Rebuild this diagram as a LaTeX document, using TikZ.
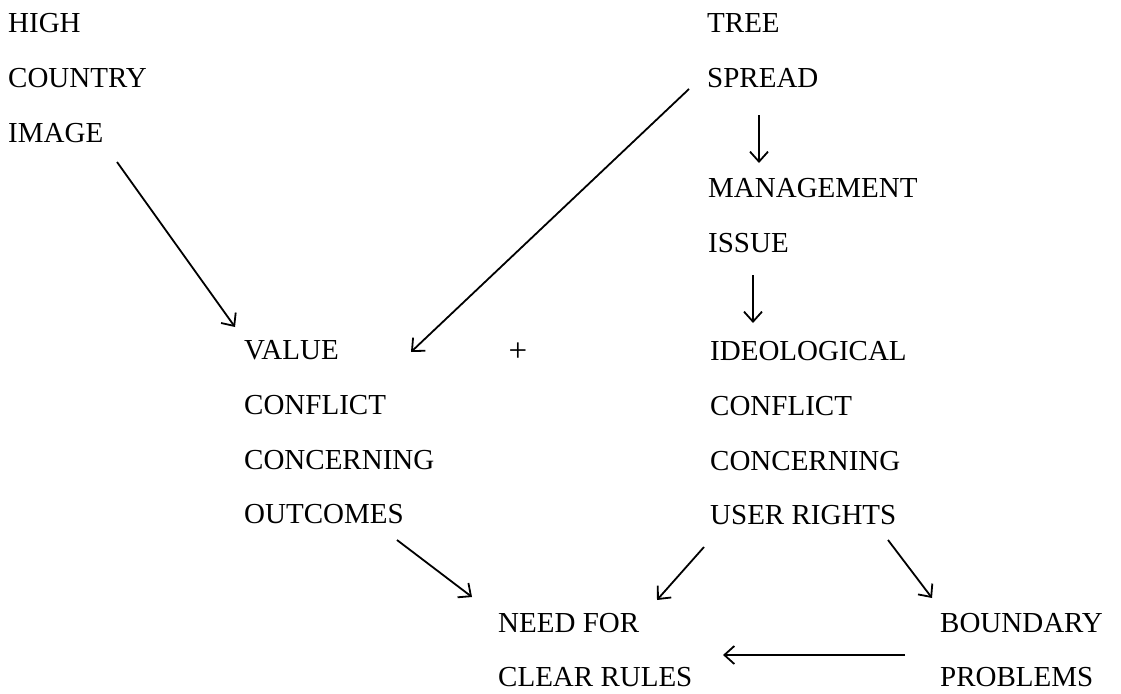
\documentclass[tikz,border=0pt]{standalone}
\usepackage{fontspec}
\setmainfont{Liberation Serif}
\usetikzlibrary{arrows.meta,calc}
\tikzset{
  lbl/.style={anchor=base west, inner sep=0pt, font=\fontsize{29}{34}\selectfont},
  conn/.style={line width=1.8pt, -{Straight Barb[length=10pt,width=18pt]}}
}
\begin{document}
\begin{tikzpicture}[x=1pt,y=-1pt]
\useasboundingbox (0,0) rectangle (1121,693);
% left column
\node[lbl] (high) at (8,33) {HIGH};
\node[lbl] (country) at (8,88) {COUNTRY};
\node[lbl] (image) at (8,142) {IMAGE};
% right top column
\node[lbl] (tree) at (707,33) {TREE};
\node[lbl] (spread) at (707,88) {SPREAD};
\node[lbl] (management) at (708,197) {MANAGEMENT};
\node[lbl] (issue) at (708,252) {ISSUE};
\node[lbl] (ideo) at (710,360) {IDEOLOGICAL};
\node[lbl] (conf2) at (710,415) {CONFLICT};
\node[lbl] (conc2) at (710,470) {CONCERNING};
\node[lbl] (user) at (710,524) {USER RIGHTS};
% middle column
\node[lbl] (value) at (244,359) {VALUE};
\node[lbl] (conf1) at (244,414) {CONFLICT};
\node[lbl] (conc1) at (244,469) {CONCERNING};
\node[lbl] (outcomes) at (244,523) {OUTCOMES};
\node[font=\fontsize{33}{36}\selectfont, inner sep=0pt] (plus) at (518,352) {+};
% bottom
\node[lbl] (need) at (498,632) {NEED FOR};
\node[lbl] (clear) at (498,686) {CLEAR RULES};
\node[lbl] (boundary) at (940,632) {BOUNDARY};
\node[lbl] (problems) at (940,686) {PROBLEMS};
% connectors
\draw[conn] ($(image.base west)+(109,20)$) -- ($(value.base west)+(-9,-32)$);
\draw[conn] ($(spread.base west)+(-18,1)$) -- ($(value.base west)+(167,-7)$);
\draw[conn] ($(spread.base west)+(52,27)$) -- ($(management.base west)+(51,-34)$);
\draw[conn] ($(issue.base west)+(45,23)$) -- ($(ideo.base west)+(43,-37)$);
\draw[conn] ($(outcomes.base west)+(153,17)$) -- ($(need.base west)+(-26,-35)$);
\draw[conn] ($(user.base west)+(-6,23)$) -- ($(need.base west)+(159,-32)$);
\draw[conn] ($(user.base west)+(178,16)$) -- ($(boundary.base west)+(-8,-34)$);
\draw[conn] ($(boundary.base west)+(-35,23)$) -- ($(need.base west)+(225,23)$);
\end{tikzpicture}
\end{document}
